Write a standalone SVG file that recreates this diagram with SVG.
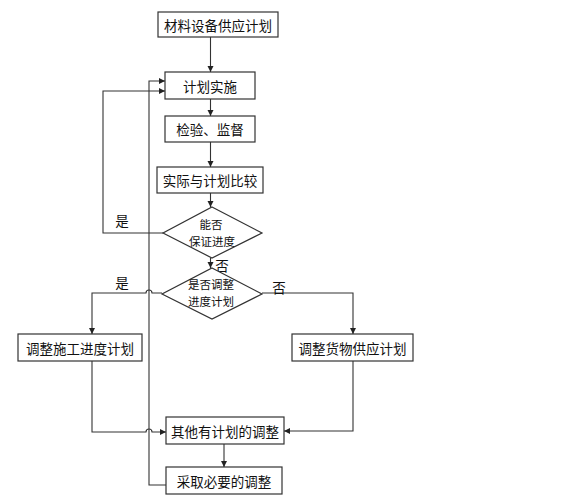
<svg xmlns="http://www.w3.org/2000/svg" width="574" height="500" viewBox="0 0 574 500">
<style>
.b{fill:#fff;stroke:#333;stroke-width:1.2}
.t{font-family:"Noto Sans CJK SC","Liberation Sans",sans-serif;font-size:13.5px;fill:#111;text-anchor:middle;dominant-baseline:central}
.s{font-size:11.5px}
.c{fill:none;stroke:#333;stroke-width:1.1}
</style>
<defs>
<marker id="a" markerWidth="7" markerHeight="7" refX="6" refY="3.5" orient="auto" markerUnits="userSpaceOnUse">
<path d="M0,0.5 L6,3.5 L0,6.5 Z" fill="#222"/>
</marker>
</defs>
<rect width="574" height="500" fill="#fff"/>
<g id="connectors">
<path class="c" d="M210.5,37 V72" marker-end="url(#a)"/>
<path class="c" d="M210.5,99 V116" marker-end="url(#a)"/>
<path class="c" d="M210.5,142 V167" marker-end="url(#a)"/>
<path class="c" d="M210.5,193 V207" marker-end="url(#a)"/>
<path class="c" d="M163,233 H103 V91 H165" marker-end="url(#a)"/>
<text class="t" x="122" y="220">是</text>
<path class="c" d="M210.5,258 V268" marker-end="url(#a)"/>
<text class="t" x="222" y="265">否</text>
<path class="c" d="M162,293 H152 A3,3 0 0 0 146,293 H92 V334" marker-end="url(#a)"/>
<text class="t" x="122" y="282">是</text>
<path class="c" d="M262,293 H353 V334" marker-end="url(#a)"/>
<text class="t" x="279" y="287">否</text>
<path class="c" d="M92,361 V432 H146 A3,3 0 0 1 152,432 H166" marker-end="url(#a)"/>
<path class="c" d="M353,361 V431 H284" marker-end="url(#a)"/>
<path class="c" d="M224,444 V467" marker-end="url(#a)"/>
<path class="c" d="M166,485 H149 V81 H165" marker-end="url(#a)"/>
</g>
<g id="n1"><rect class="b" x="158" y="12" width="120" height="25"/><text class="t" x="218" y="24.5">材料设备供应计划</text></g>
<g id="n2"><rect class="b" x="165" y="72" width="90" height="27"/><text class="t" x="210" y="85.5">计划实施</text></g>
<g id="n3"><rect class="b" x="165" y="116" width="90" height="26"/><text class="t" x="210" y="129">检验、监督</text></g>
<g id="n4"><rect class="b" x="157" y="167" width="106" height="26"/><text class="t" x="210" y="180">实际与计划比较</text></g>
<g id="d1"><polygon class="b" points="212,207 262,233 212,258 163,233"/><text class="t s" x="211" y="224">能否</text><text class="t s" x="212" y="241">保证进度</text></g>
<g id="d2"><polygon class="b" points="212,268 262,294 212,319 162,294"/><text class="t s" x="211" y="283.5">是否调整</text><text class="t s" x="211" y="300.5">进度计划</text></g>
<g id="n5"><rect class="b" x="18" y="334" width="124" height="27"/><text class="t" x="80" y="347.5">调整施工进度计划</text></g>
<g id="n6"><rect class="b" x="292" y="334" width="121" height="27"/><text class="t" x="352.5" y="347.5">调整货物供应计划</text></g>
<g id="n7"><rect class="b" x="166" y="417" width="118" height="27"/><text class="t" x="225" y="430.5">其他有计划的调整</text></g>
<g id="n8"><rect class="b" x="166" y="467" width="116" height="27"/><text class="t" x="224" y="480.5">采取必要的调整</text></g>
</svg>
